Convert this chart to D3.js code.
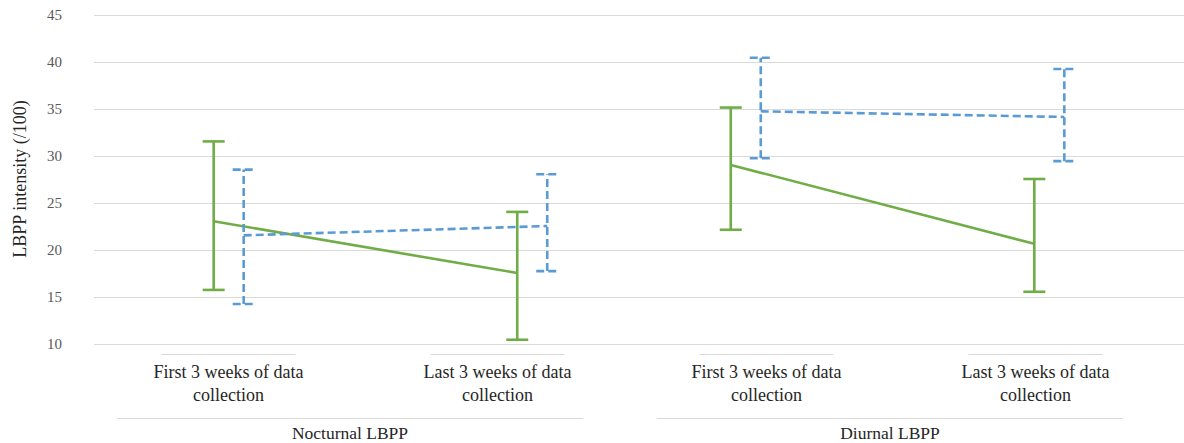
<!DOCTYPE html>
<html>
<head>
<meta charset="utf-8">
<script src="https://cdn.jsdelivr.net/npm/d3@7"></script>
<style>
  body { margin: 0; background: #fff; }
</style>
</head>
<body>
<div class="canvas"></div>
<script>
// data
const groups = ['Nocturnal LBPP', 'Diurnal LBPP'];
const periods = ['First 3 weeks of data collection', 'Last 3 weeks of data collection'];
const yTicks = [10, 15, 20, 25, 30, 35, 40, 45];

// order: Nocturnal first, Nocturnal last, Diurnal first, Diurnal last
const greenMean = [23.0, 17.5, 29.0, 20.6];
const greenLow = [15.7, 10.4, 22.1, 15.5];
const greenHigh = [31.5, 24.0, 35.1, 27.5];

const blueMean = [21.5, 22.5, 34.7, 34.1];
const blueLow = [14.2, 17.7, 29.7, 29.4];
const blueHigh = [28.5, 28.0, 40.4, 39.2];

const width = 1184, height = 443;
const serif = '"Liberation Serif", "DejaVu Serif", "Times New Roman", Times, serif';

const svg = d3.select('.canvas')
    .append('svg')
    .attr('width', width)
    .attr('height', height)
    .style('font-family', serif);

// scales
const y = d3.scaleLinear()
    .domain([10, 45])
    .range([343.5, 14.5]);

const xGroup = d3.scaleBand()
    .domain(groups)
    .range([94, 1184])
    .paddingInner(0.4)
    .paddingOuter(0.254);

const xPeriod = d3.scalePoint()
    .domain(periods)
    .range([0, xGroup.bandwidth()])
    .padding(0.011);

const catKeys = [];
groups.forEach(g => periods.forEach(p => catKeys.push(g + '|' + p)));

// label positions follow the category axis
const xLabel = d3.scaleBand()
    .domain(catKeys)
    .range([94, 1170]);

const xGroupLabel = d3.scaleBand()
    .domain(groups)
    .range([80, 1160]);

const seriesOffset = d3.scalePoint()
    .domain(['green', 'blue'])
    .range([-15, 15]);

// gridlines
svg.append('g')
    .selectAll('line')
    .data(yTicks)
    .enter()
    .append('line')
    .attr('x1', 94)
    .attr('x2', width)
    .attr('y1', d => Math.round(y(d)) + 0.5)
    .attr('y2', d => Math.round(y(d)) + 0.5)
    .attr('stroke', '#d9d9d9')
    .attr('stroke-width', 1.2);

// y axis
const yAxis = d3.axisLeft(y)
    .tickValues(yTicks)
    .tickSize(0)
    .tickPadding(0);

const yAxisGroup = svg.append('g')
    .attr('transform', 'translate(62, 0)')
    .call(yAxis)
    .attr('font-family', null);

yAxisGroup.select('.domain').remove();
yAxisGroup.selectAll('text')
    .attr('font-size', 15)
    .attr('fill', '#595959');

svg.append('text')
    .attr('transform', `translate(26, ${(y(10) + y(45)) / 2}) rotate(-90)`)
    .attr('text-anchor', 'middle')
    .attr('font-size', 18)
    .attr('fill', '#262626')
    .text('LBPP intensity (/100)');

// category labels
const catLabels = svg.append('g');
catKeys.forEach(k => {
    const cx = xLabel(k) + xLabel.bandwidth() / 2;
    const label = k.split('|')[1];
    const cut = label.lastIndexOf(' ');
    catLabels.append('line')
        .attr('x1', cx - 67).attr('x2', cx + 67)
        .attr('y1', 354.5).attr('y2', 354.5)
        .attr('stroke', '#d9d9d9')
        .attr('stroke-width', 1.2);
    const t = catLabels.append('text')
        .attr('text-anchor', 'middle')
        .attr('font-size', 18)
        .attr('fill', '#262626');
    t.append('tspan').attr('x', cx).attr('y', 378).text(label.slice(0, cut));
    t.append('tspan').attr('x', cx).attr('y', 401).text(label.slice(cut + 1));
});

// group labels
groups.forEach(g => {
    const cx = xGroupLabel(g) + xGroupLabel.bandwidth() / 2;
    svg.append('line')
        .attr('x1', cx - 233).attr('x2', cx + 233)
        .attr('y1', 418.5).attr('y2', 418.5)
        .attr('stroke', '#d9d9d9')
        .attr('stroke-width', 1.2);
    svg.append('text')
        .attr('x', cx)
        .attr('y', 439)
        .attr('text-anchor', 'middle')
        .attr('font-size', 17.5)
        .attr('fill', '#262626')
        .text(g);
});

// series
const series = [
    { key: 'green', color: '#70ad47', dash: null, mean: greenMean, low: greenLow, high: greenHigh },
    { key: 'blue', color: '#5b9bd5', dash: '8,4', mean: blueMean, low: blueLow, high: blueHigh }
];

const pointX = (i, key) => {
    const g = groups[Math.floor(i / 2)];
    const p = periods[i % 2];
    return xGroup(g) + xPeriod(p) + seriesOffset(key);
};

const capW = 11;

series.forEach(s => {
    const pts = s.mean.map((m, i) => ({ i, m, lo: s.low[i], hi: s.high[i], x: pointX(i, s.key) }));
    const g = svg.append('g')
        .attr('stroke', s.color)
        .attr('stroke-width', 2.6)
        .attr('fill', 'none')
        .attr('stroke-dasharray', s.dash);

    // mean lines, joined within each group only
    const line = d3.line().x(d => d.x).y(d => y(d.m));
    groups.forEach((grp, gi) => {
        g.append('path')
            .attr('d', line(pts.filter(d => Math.floor(d.i / 2) === gi)));
    });

    // error bars
    const bars = g.selectAll('g.bar')
        .data(pts)
        .enter()
        .append('g')
        .attr('class', 'bar');

    bars.append('line')
        .attr('x1', d => d.x).attr('x2', d => d.x)
        .attr('y1', d => y(d.lo)).attr('y2', d => y(d.hi));

    bars.append('line')
        .attr('x1', d => d.x - capW).attr('x2', d => d.x + capW)
        .attr('y1', d => y(d.hi)).attr('y2', d => y(d.hi));

    bars.append('line')
        .attr('x1', d => d.x - capW).attr('x2', d => d.x + capW)
        .attr('y1', d => y(d.lo)).attr('y2', d => y(d.lo));
});
</script>
</body>
</html>
